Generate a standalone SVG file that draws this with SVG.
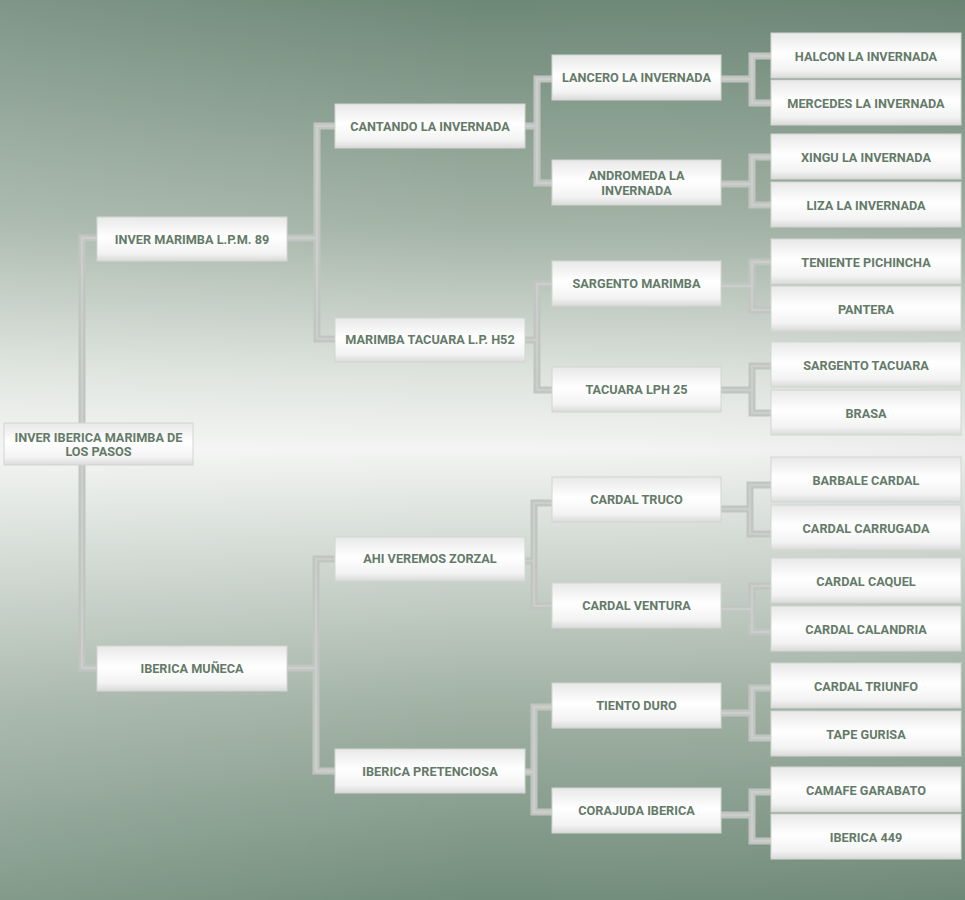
<svg xmlns="http://www.w3.org/2000/svg" width="965" height="900" viewBox="0 0 965 900">
<defs>
<linearGradient id="bg" x1="0" y1="0" x2="0" y2="1">
<stop offset="0" stop-color="#6d8877"/>
<stop offset="0.25" stop-color="#a3b3a6"/>
<stop offset="0.42" stop-color="#dfe4df"/>
<stop offset="0.5" stop-color="#f3f4f3"/>
<stop offset="0.6" stop-color="#d5dcd6"/>
<stop offset="0.78" stop-color="#a2b2a5"/>
<stop offset="1" stop-color="#728d7b"/>
</linearGradient>
<linearGradient id="bgh" x1="0" y1="0" x2="1" y2="0">
<stop offset="0" stop-color="#ffffff" stop-opacity="0.12"/>
<stop offset="0.5" stop-color="#ffffff" stop-opacity="0"/>
<stop offset="1" stop-color="#000000" stop-opacity="0.03"/>
</linearGradient>
<linearGradient id="box" x1="0" y1="0" x2="0" y2="1">
<stop offset="0" stop-color="#e7e8e7"/>
<stop offset="0.45" stop-color="#ffffff"/>
<stop offset="0.82" stop-color="#f3f3f3"/>
<stop offset="1" stop-color="#d9dad9"/>
</linearGradient>
</defs>
<style>
.n rect{fill:url(#box);stroke:#d2d5d2;stroke-width:1}
.n text{font-family:Roboto,"Liberation Sans",sans-serif;font-weight:bold;font-size:12.7px;fill:#647a69;text-anchor:middle;dominant-baseline:central}
.c path{fill:none;stroke-linejoin:miter}
.c .o{stroke:#c1c5c1;stroke-width:7}
.c .i{stroke:#cbcecb;stroke-width:2.5}
</style>
<rect width="965" height="900" fill="url(#bg)"/>
<rect width="965" height="900" fill="url(#bgh)"/>
<g id="connectors" class="c">
<g class="o-set">
<path class="o" d="M97,238 H82 V668 H97"/>
<path class="o" d="M287,238 H317 V126 H335 M317,238 V339 H335"/>
<path class="o" d="M287,668 H316 V559 H335 M316,668 V771 H335"/>
<path class="o" d="M525,126 H537 V79 H552 M537,126 V183 H552"/>
<path class="o" d="M525,340 H537 V284 H552 M537,340 V390 H552"/>
<path class="o" d="M525,561 H534 V503 H552 M534,561 V606 H552"/>
<path class="o" d="M525,772 H534 V707 H552 M534,772 V812 H552"/>
<path class="o" d="M721,79 H752 V56 H771 M752,79 V103 H771"/>
<path class="o" d="M721,184 H752 V157 H771 M752,184 V205 H771"/>
<path class="o" d="M721,286 H752 V262 H771 M752,286 V310 H771"/>
<path class="o" d="M721,390 H752 V366 H771 M752,390 V413 H771"/>
<path class="o" d="M721,509 H750 V485 H771 M750,509 V534 H771"/>
<path class="o" d="M721,609 H752 V586 H771 M752,609 V632 H771"/>
<path class="o" d="M721,713 H752 V688 H771 M752,713 V738 H771"/>
<path class="o" d="M721,815 H752 V792 H771 M752,815 V841 H771"/>
</g>
<g class="i-set">
<path class="i" d="M97,238 H82 V668 H97"/>
<path class="i" d="M287,238 H317 V126 H335 M317,238 V339 H335"/>
<path class="i" d="M287,668 H316 V559 H335 M316,668 V771 H335"/>
<path class="i" d="M525,126 H537 V79 H552 M537,126 V183 H552"/>
<path class="i" d="M525,340 H537 V284 H552 M537,340 V390 H552"/>
<path class="i" d="M525,561 H534 V503 H552 M534,561 V606 H552"/>
<path class="i" d="M525,772 H534 V707 H552 M534,772 V812 H552"/>
<path class="i" d="M721,79 H752 V56 H771 M752,79 V103 H771"/>
<path class="i" d="M721,184 H752 V157 H771 M752,184 V205 H771"/>
<path class="i" d="M721,286 H752 V262 H771 M752,286 V310 H771"/>
<path class="i" d="M721,390 H752 V366 H771 M752,390 V413 H771"/>
<path class="i" d="M721,509 H750 V485 H771 M750,509 V534 H771"/>
<path class="i" d="M721,609 H752 V586 H771 M752,609 V632 H771"/>
<path class="i" d="M721,713 H752 V688 H771 M752,713 V738 H771"/>
<path class="i" d="M721,815 H752 V792 H771 M752,815 V841 H771"/>
</g>
</g>
<g id="root" class="n"><rect x="4" y="423" width="189" height="42"/><text x="98.5" y="437">INVER IBERICA MARIMBA DE</text><text x="98.5" y="451">LOS PASOS</text></g>
<g id="inver-marimba" class="n"><rect x="97" y="217" width="190" height="44"/><text x="192" y="239">INVER MARIMBA L.P.M. 89</text></g>
<g id="iberica-muneca" class="n"><rect x="97" y="646" width="190" height="45"/><text x="192" y="668">IBERICA MUÑECA</text></g>
<g id="cantando" class="n"><rect x="335" y="104" width="190" height="44"/><text x="430" y="126">CANTANDO LA INVERNADA</text></g>
<g id="marimba-tacuara" class="n"><rect x="335" y="318" width="190" height="44"/><text x="430" y="339">MARIMBA TACUARA L.P. H52</text></g>
<g id="ahi-veremos" class="n"><rect x="335" y="537" width="190" height="44"/><text x="430" y="558">AHI VEREMOS ZORZAL</text></g>
<g id="iberica-pretenciosa" class="n"><rect x="335" y="749" width="190" height="44"/><text x="430" y="771">IBERICA PRETENCIOSA</text></g>
<g id="lancero" class="n"><rect x="552" y="55" width="169" height="45"/><text x="636.5" y="77">LANCERO LA INVERNADA</text></g>
<g id="andromeda" class="n"><rect x="552" y="160" width="169" height="45"/><text x="636.5" y="175">ANDROMEDA LA</text><text x="636.5" y="190">INVERNADA</text></g>
<g id="sargento-marimba" class="n"><rect x="552" y="261" width="169" height="45"/><text x="636.5" y="283">SARGENTO MARIMBA</text></g>
<g id="tacuara-lph" class="n"><rect x="552" y="367" width="169" height="45"/><text x="636.5" y="389">TACUARA LPH 25</text></g>
<g id="cardal-truco" class="n"><rect x="552" y="477" width="169" height="45"/><text x="636.5" y="499">CARDAL TRUCO</text></g>
<g id="cardal-ventura" class="n"><rect x="552" y="583" width="169" height="45"/><text x="636.5" y="605">CARDAL VENTURA</text></g>
<g id="tiento-duro" class="n"><rect x="552" y="683" width="169" height="45"/><text x="636.5" y="705">TIENTO DURO</text></g>
<g id="corajuda" class="n"><rect x="552" y="788" width="169" height="45"/><text x="636.5" y="810">CORAJUDA IBERICA</text></g>
<g id="halcon" class="n"><rect x="771" y="33" width="190" height="45"/><text x="866" y="56">HALCON LA INVERNADA</text></g>
<g id="mercedes" class="n"><rect x="771" y="80" width="190" height="45"/><text x="866" y="103">MERCEDES LA INVERNADA</text></g>
<g id="xingu" class="n"><rect x="771" y="134" width="190" height="45"/><text x="866" y="157">XINGU LA INVERNADA</text></g>
<g id="liza" class="n"><rect x="771" y="182" width="190" height="45"/><text x="866" y="205">LIZA LA INVERNADA</text></g>
<g id="teniente" class="n"><rect x="771" y="239" width="190" height="45"/><text x="866" y="262">TENIENTE PICHINCHA</text></g>
<g id="pantera" class="n"><rect x="771" y="286" width="190" height="45"/><text x="866" y="309">PANTERA</text></g>
<g id="sargento-tacuara" class="n"><rect x="771" y="342" width="190" height="45"/><text x="866" y="365">SARGENTO TACUARA</text></g>
<g id="brasa" class="n"><rect x="771" y="390" width="190" height="45"/><text x="866" y="413">BRASA</text></g>
<g id="barbale" class="n"><rect x="771" y="457" width="190" height="45"/><text x="866" y="480">BARBALE CARDAL</text></g>
<g id="carrugada" class="n"><rect x="771" y="505" width="190" height="45"/><text x="866" y="528">CARDAL CARRUGADA</text></g>
<g id="caquel" class="n"><rect x="771" y="558" width="190" height="45"/><text x="866" y="581">CARDAL CAQUEL</text></g>
<g id="calandria" class="n"><rect x="771" y="606" width="190" height="45"/><text x="866" y="629">CARDAL CALANDRIA</text></g>
<g id="triunfo" class="n"><rect x="771" y="663" width="190" height="45"/><text x="866" y="686">CARDAL TRIUNFO</text></g>
<g id="tape" class="n"><rect x="771" y="711" width="190" height="45"/><text x="866" y="734">TAPE GURISA</text></g>
<g id="camafe" class="n"><rect x="771" y="767" width="190" height="45"/><text x="866" y="790">CAMAFE GARABATO</text></g>
<g id="iberica449" class="n"><rect x="771" y="814" width="190" height="45"/><text x="866" y="837">IBERICA 449</text></g>
</svg>
